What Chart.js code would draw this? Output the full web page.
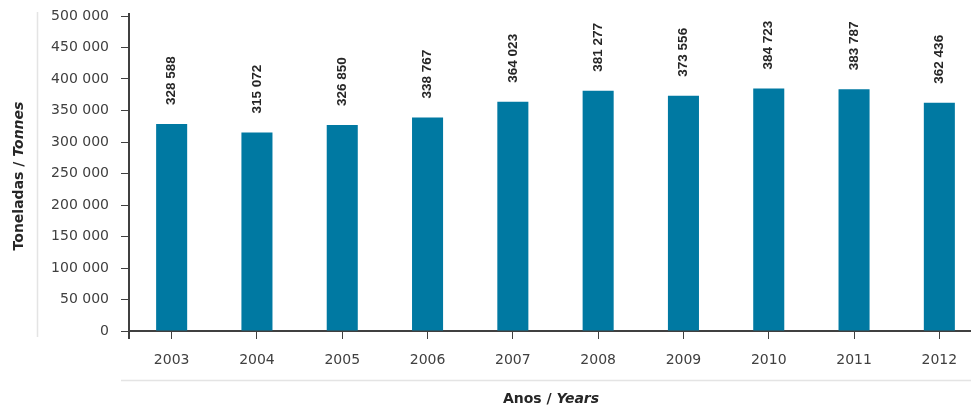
<!DOCTYPE html>
<html>
<head>
<meta charset="utf-8">
<script src="https://cdn.jsdelivr.net/npm/chart.js@4/dist/chart.umd.min.js"></script>
<style>
  html, body { margin: 0; padding: 0; background: #fff; overflow: hidden; }
  #wrap { position: relative; width: 985px; height: 410px; }
</style>
</head>
<body>
<div id="wrap"><canvas id="chart"></canvas></div>
<script>
// data
var years = ['2003', '2004', '2005', '2006', '2007', '2008', '2009', '2010', '2011', '2012'];
var tonnes = [328588, 315072, 326850, 338767, 364023, 381277, 373556, 384723, 383787, 362436];
var yMax = 500000;
var yStep = 50000;

var axisColor = '#404040';
var barColor = '#0079a2';
var font = '"DejaVu Sans", sans-serif';

// 328588 -> "328 588"
function spaced(v) {
    return String(v).replace(/\B(?=(\d{3})+(?!\d))/g, ' ');
}

// value labels, axis titles and the light frame lines
var extras = {
    id: 'extras',
    afterDatasetsDraw: function (chart) {
        var ctx = chart.ctx;
        var meta = chart.getDatasetMeta(0);
        ctx.save();
        ctx.fillStyle = '#262626';
        ctx.font = 'bold 13.5px "Liberation Sans", Arial, sans-serif';
        ctx.textAlign = 'left';
        ctx.textBaseline = 'middle';
        meta.data.forEach(function (bar, i) {
            ctx.save();
            ctx.translate(bar.x, bar.y - 19);
            ctx.rotate(-Math.PI / 2);
            ctx.fillText(spaced(tonnes[i]), 0, 0);
            ctx.restore();
        });
        ctx.restore();
    },
    afterDraw: function (chart) {
        var ctx = chart.ctx;
        var area = chart.chartArea;
        ctx.save();

        // light frame lines
        ctx.strokeStyle = '#e4e4e4';
        ctx.lineWidth = 1.5;
        ctx.beginPath();
        ctx.moveTo(37.5, 12);
        ctx.lineTo(37.5, 337);
        ctx.moveTo(121, 380.5);
        ctx.lineTo(985, 380.5);
        ctx.stroke();

        // y axis runs a little past both ends
        ctx.strokeStyle = axisColor;
        ctx.lineWidth = 2;
        ctx.beginPath();
        ctx.moveTo(area.left, area.bottom);
        ctx.lineTo(area.left, area.bottom + 8);
        ctx.moveTo(area.left, area.top);
        ctx.lineTo(area.left, area.top - 3);
        ctx.stroke();

        ctx.fillStyle = '#262626';
        ctx.textBaseline = 'middle';
        var boldF = 'bold 14px ' + font;
        var italF = 'italic bold 14px ' + font;

        // x title
        ctx.font = boldF;
        var a = 'Anos / ';
        var wa = ctx.measureText(a).width;
        ctx.font = italF;
        var wb = ctx.measureText('Years').width;
        var x0 = 551 - (wa + wb) / 2;
        ctx.textAlign = 'left';
        ctx.font = boldF;
        ctx.fillText(a, x0, 399);
        ctx.font = italF;
        ctx.fillText('Years', x0 + wa, 399);

        // y title
        ctx.translate(19, 176);
        ctx.rotate(-Math.PI / 2);
        ctx.font = boldF;
        var c = 'Toneladas / ';
        var wc = ctx.measureText(c).width;
        ctx.font = italF;
        var wd = ctx.measureText('Tonnes').width;
        var y0 = -(wc + wd) / 2;
        ctx.font = boldF;
        ctx.fillText(c, y0, 0);
        ctx.font = italF;
        ctx.fillText('Tonnes', y0 + wc, 0);

        ctx.restore();
    }
};

new Chart(document.getElementById('chart'), {
    type: 'bar',
    data: {
        labels: years,
        datasets: [{
            data: tonnes,
            backgroundColor: barColor,
            borderWidth: 0,
            categoryPercentage: 1,
            barPercentage: 0.364
        }]
    },
    options: {
        responsive: true,
        maintainAspectRatio: false,
        animation: false,
        layout: { padding: { left: 0, top: 16, right: 3, bottom: 0 } },
        plugins: {
            legend: { display: false },
            tooltip: { enabled: false }
        },
        scales: {
            x: {
                grid: {
                    offset: false,
                    drawOnChartArea: false,
                    tickLength: 8,
                    tickColor: axisColor,
                    tickWidth: 1
                },
                border: { color: axisColor, width: 2 },
                ticks: {
                    color: axisColor,
                    padding: 13,
                    maxRotation: 0,
                    font: { family: font, size: 14 }
                },
                afterFit: function (scale) {
                    scale.height = 79;
                    scale.paddingLeft = 0;
                    scale.paddingRight = 0;
                }
            },
            y: {
                min: 0,
                max: yMax,
                grid: {
                    drawOnChartArea: false,
                    tickLength: 8,
                    tickColor: axisColor,
                    tickWidth: 1
                },
                border: { color: axisColor, width: 2 },
                ticks: {
                    stepSize: yStep,
                    color: axisColor,
                    padding: 12,
                    font: { family: font, size: 14 },
                    callback: function (v) { return spaced(v); }
                },
                afterFit: function (scale) {
                    scale.width = 129;
                    scale.paddingTop = 0;
                    scale.paddingBottom = 0;
                }
            }
        }
    },
    plugins: [extras]
});
</script>
</body>
</html>
